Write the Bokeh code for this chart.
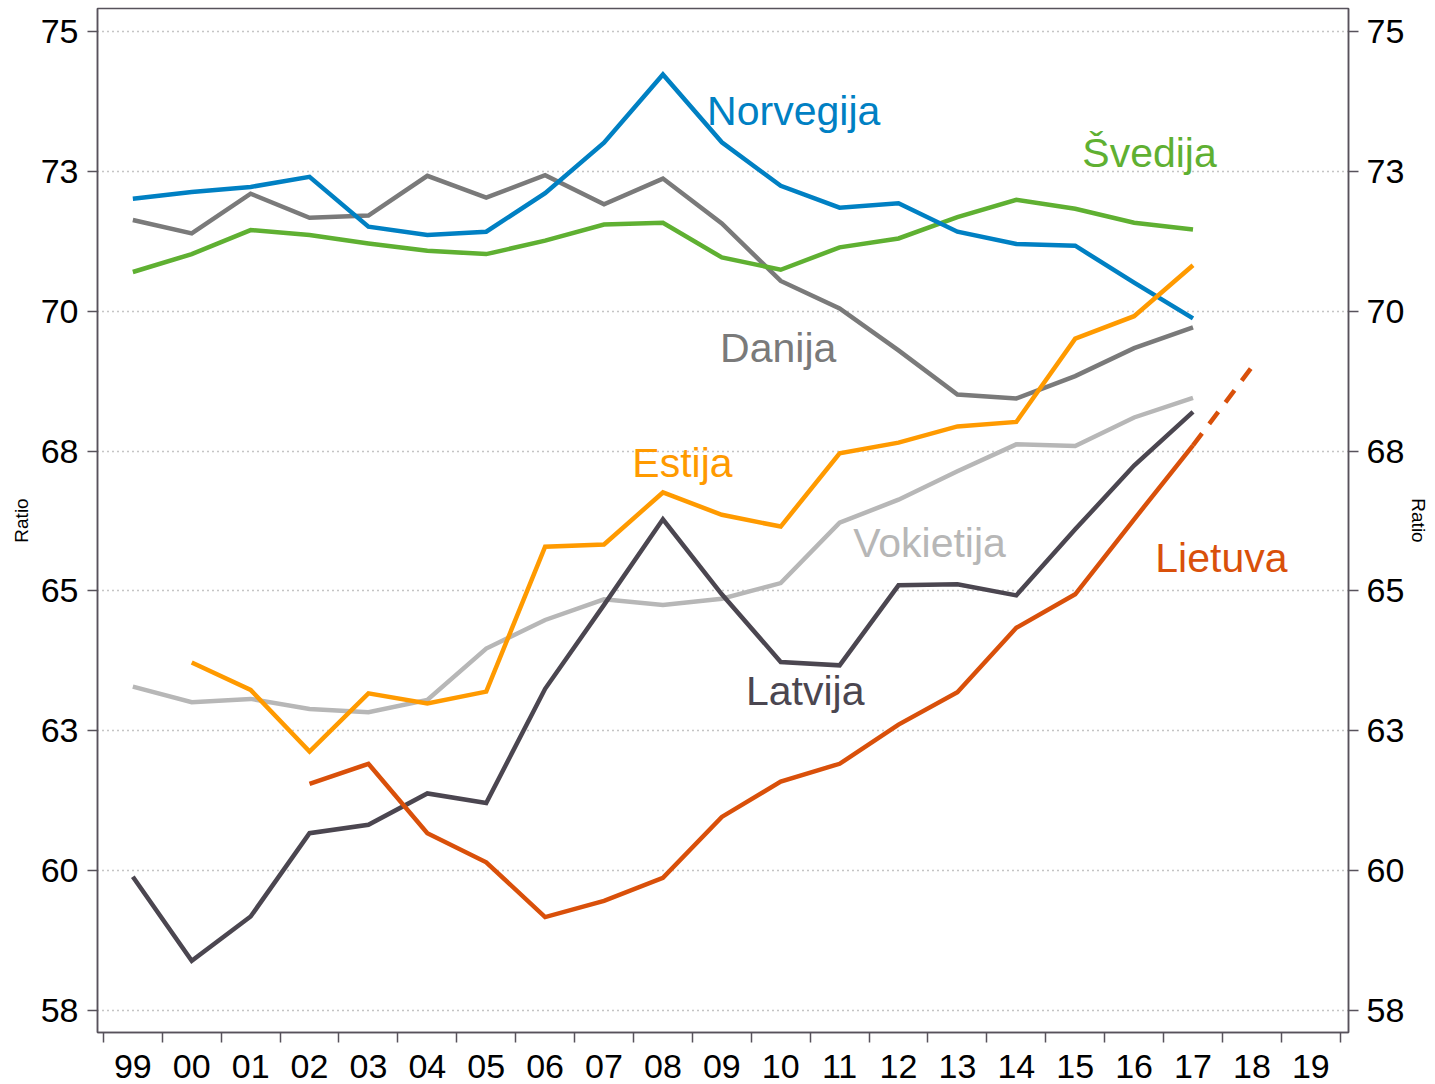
from bokeh.plotting import figure
from bokeh.models import Range1d, LinearAxis, FixedTicker, Label
from bokeh.embed import file_html
from bokeh.resources import INLINE

# ---- data ----
years = ["99", "00", "01", "02", "03", "04", "05", "06", "07", "08", "09",
         "10", "11", "12", "13", "14", "15", "16", "17", "18", "19"]

norvegija = [72.01, 72.13, 72.22, 72.40, 71.51, 71.36, 71.42, 72.11, 73.01, 74.23,
             73.02, 72.24, 71.85, 71.93, 71.42, 71.20, 71.17, 70.51, 69.87]
svedija = [70.70, 71.02, 71.45, 71.36, 71.21, 71.08, 71.02, 71.26, 71.55, 71.58,
           70.96, 70.74, 71.14, 71.30, 71.68, 71.99, 71.83, 71.58, 71.46]
danija = [71.63, 71.39, 72.10, 71.67, 71.71, 72.42, 72.03, 72.43, 71.91, 72.37,
          71.57, 70.54, 70.05, 69.30, 68.51, 68.44, 68.84, 69.34, 69.71]
estija = [63.72, 63.23, 62.13, 63.17, 62.99, 63.20, 65.79, 65.83, 66.76,
          66.36, 66.15, 67.46, 67.65, 67.94, 68.02, 69.51, 69.91, 70.82]          # 00..17
vokietija = [63.29, 63.01, 63.07, 62.89, 62.83, 63.05, 63.97, 64.48, 64.85, 64.75,
             64.86, 65.14, 66.22, 66.63, 67.14, 67.62, 67.59, 68.10, 68.45]
latvija = [59.89, 58.39, 59.18, 60.67, 60.82, 61.38, 61.21, 63.25, 64.75, 66.28,
           64.94, 63.73, 63.67, 65.10, 65.12, 64.92, 66.10, 67.24, 68.20]
lietuva = [61.55, 61.91, 60.67, 60.15, 59.17, 59.46, 59.87,
           60.96, 61.59, 61.91, 62.61, 63.19, 64.34, 64.94, 66.28, 67.60]          # 02..17
lietuva_forecast = [67.60, 69.00]                                                 # 17..18

y_tick_values = [57.5, 60, 62.5, 65, 67.5, 70, 72.5, 75]
y_tick_labels = ["58", "60", "63", "65", "68", "70", "73", "75"]

series = [
    ("Vokietija", vokietija, 0, "#b7b7b7"),
    ("Danija", danija, 0, "#7a7a7a"),
    ("Švedija", svedija, 0, "#5fb032"),
    ("Norvegija", norvegija, 0, "#0080c3"),
    ("Estija", estija, 1, "#ff9a00"),
    ("Latvija", latvija, 0, "#4b4650"),
    ("Lietuva", lietuva, 3, "#d9500a"),
]

# label anchor positions (x in year index, y baseline value)
label_pos = {
    "Norvegija": (9.75, 73.57),
    "Švedija": (16.12, 72.82),
    "Danija": (9.97, 69.34),
    "Estija": (8.48, 67.29),
    "Vokietija": (12.23, 65.86),
    "Latvija": (10.41, 63.21),
    "Lietuva": (17.36, 65.59),
}

FONT = "Liberation Sans"
AX = "#57525b"

p = figure(width=1435, height=1084, output_backend="svg", toolbar_location=None,
           x_range=Range1d(-0.60, 20.64), y_range=Range1d(57.107, 75.41),
           min_border_left=97, min_border_right=87, min_border_top=8, min_border_bottom=52)

p.outline_line_color = AX
p.outline_line_width = 1.5
p.background_fill_color = "white"
p.border_fill_color = "white"

# x axis
xt = FixedTicker(ticks=list(range(len(years))),
                 minor_ticks=[i - 0.5 for i in range(len(years) + 1)])
p.xaxis.ticker = xt
p.xaxis.major_label_overrides = {i: y for i, y in enumerate(years)}
p.xaxis.major_tick_line_color = None
p.xaxis.major_tick_in = 0
p.xaxis.major_tick_out = 0
p.xaxis.minor_tick_in = 0
p.xaxis.minor_tick_out = 10
p.xaxis.minor_tick_line_color = AX
p.xaxis.minor_tick_line_width = 1.5
p.xaxis.axis_line_color = AX
p.xaxis.axis_line_width = 1.5
p.xaxis.major_label_standoff = 12
p.xaxis.major_label_text_font = FONT
p.xaxis.major_label_text_font_size = "34px"
p.xaxis.major_label_text_color = "black"

yt = FixedTicker(ticks=y_tick_values, minor_ticks=[])
ov = {v: l for v, l in zip(y_tick_values, y_tick_labels)}

def style_y(ax, label_standoff, axis_label_standoff):
    ax.ticker = yt
    ax.major_label_overrides = ov
    ax.major_tick_in = 0
    ax.major_tick_out = 10
    ax.major_tick_line_color = AX
    ax.major_tick_line_width = 1.5
    ax.minor_tick_line_color = None
    ax.axis_line_color = AX
    ax.axis_line_width = 1.5
    ax.major_label_standoff = label_standoff
    ax.major_label_text_font = FONT
    ax.major_label_text_font_size = "34px"
    ax.major_label_text_color = "black"
    ax.axis_label = "Ratio"
    ax.axis_label_text_font = FONT
    ax.axis_label_text_font_size = "19px"
    ax.axis_label_text_font_style = "normal"
    ax.axis_label_text_color = "black"
    ax.axis_label_standoff = axis_label_standoff

style_y(p.yaxis[0], 9, 6)
right = LinearAxis()
style_y(right, 8, 1)
p.add_layout(right, "right")

p.xgrid.visible = False
p.ygrid.ticker = yt
p.ygrid.grid_line_color = "#8a8a8a"
p.ygrid.grid_line_dash = "1 4"
p.ygrid.grid_line_width = 1.3

for name, vals, start, color in series:
    xs = list(range(start, start + len(vals)))
    p.line(xs, vals, line_color=color, line_width=4.5, line_cap="butt", line_join="miter")

fx = [len(lietuva) + 3 - 1, len(lietuva) + 3]
p.line(fx, lietuva_forecast, line_color="#d9500a", line_width=4.5, line_dash="15 12")

colors = {name: color for name, _, _, color in series}
for name, (lx, ly) in label_pos.items():
    p.add_layout(Label(x=lx, y=ly, text=name, text_font=FONT, text_font_size="41px",
                       text_color=colors[name], text_align="left",
                       text_baseline="alphabetic"))

open("out.html", "w").write(file_html(p, INLINE))
